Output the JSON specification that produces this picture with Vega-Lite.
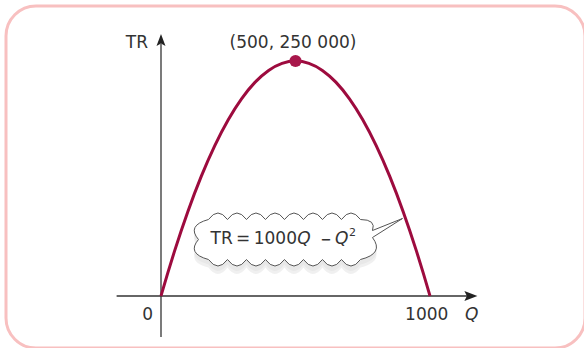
{
  "$schema": "https://vega.github.io/schema/vega-lite/v6.json",
  "width": 579,
  "height": 342,
  "autosize": {"type": "none"},
  "padding": {"left": 6, "top": 6, "right": 0, "bottom": 0},
  "background": "white",
  "config": {
    "view": {"stroke": "#f8c0c0", "strokeWidth": 3, "cornerRadius": 30},
    "text": {"font": "DejaVu Sans", "fontSize": 17, "color": "#333333"}
  },
  "encoding": {
    "x": {"field": "x", "type": "quantitative", "axis": null, "scale": {"domain": [-576.2, 1576.2], "nice": false, "zero": false}},
    "y": {"field": "y", "type": "quantitative", "axis": null, "scale": {"domain": [-55319, 308511], "nice": false, "zero": false}}
  },
  "layer": [
    {
      "data": {"values": [
        {"x": -165, "x2": 1150, "y": 0, "y2": 0},
        {"x": 0, "x2": 0, "y": -43617, "y2": 268000}
      ]},
      "mark": {"type": "rule", "color": "#333333", "strokeWidth": 1.3},
      "encoding": {"x2": {"field": "x2"}, "y2": {"field": "y2"}}
    },
    {
      "data": {"values": [
        {"x": 1152, "y": 0, "dir": "right"}
      ]},
      "mark": {"type": "point", "filled": true, "color": "#222222", "opacity": 1, "size": 4, "shape": "M6.5,0L-6.5,5L-4,0L-6.5,-5Z"}
    },
    {
      "data": {"values": [
        {"x": 0, "y": 272340, "dir": "up"}
      ]},
      "mark": {"type": "point", "filled": true, "color": "#222222", "opacity": 1, "size": 4, "shape": "M0,-6L4.5,6L0,3.5L-4.5,6Z"}
    },
    {
      "data": {"values": [
        {"x": 0, "y": 0}, {"x": 25, "y": 24375}, {"x": 50, "y": 47500}, {"x": 100, "y": 90000},
        {"x": 150, "y": 127500}, {"x": 200, "y": 160000}, {"x": 250, "y": 187500},
        {"x": 300, "y": 210000}, {"x": 350, "y": 227500}, {"x": 400, "y": 240000},
        {"x": 450, "y": 247500}, {"x": 500, "y": 250000}, {"x": 550, "y": 247500},
        {"x": 600, "y": 240000}, {"x": 650, "y": 227500}, {"x": 700, "y": 210000},
        {"x": 750, "y": 187500}, {"x": 800, "y": 160000}, {"x": 850, "y": 127500},
        {"x": 900, "y": 90000}, {"x": 950, "y": 47500}, {"x": 975, "y": 24375}, {"x": 1000, "y": 0}
      ]},
      "mark": {"type": "line", "color": "#9d0b3e", "strokeWidth": 3, "interpolate": "monotone"}
    },
    {
      "data": {"values": [{"x": 500, "y": 250000}]},
      "mark": {"type": "point", "filled": true, "color": "#a8174b", "opacity": 1, "size": 150}
    },
    {
      "data": {"values": [{"x": 459, "y": 60106}]},
      "mark": {"type": "point", "filled": true, "color": "#cfcfcf", "opacity": 0.35, "size": 4, "yOffset": 5, "strokeWidth": 0,
        "shape": "M-76,-20 Q-66.5,-33,-57,-20 Q-47.5,-33,-38,-20 Q-28.5,-33,-19,-20 Q-9.5,-33,0,-20 Q9.5,-33,19,-20 Q28.5,-33,38,-20 Q47.5,-33,57,-20 Q66.5,-33,76,-20 Q92,-20,88,-9 L88,-2 Q100,14,76,20 Q66.5,33,57,20 Q47.5,33,38,20 Q28.5,33,19,20 Q9.5,33,0,20 Q-9.5,33,-19,20 Q-28.5,33,-38,20 Q-47.5,33,-57,20 Q-66.5,33,-76,20 Q-98,14,-86,0 Q-98,-14,-76,-20 Z"}
    },
    {
      "data": {"values": [{"x": 459, "y": 60106}]},
      "mark": {"type": "point", "filled": true, "color": "#e2e2e2", "opacity": 0.5, "size": 4, "yOffset": 8, "strokeWidth": 0,
        "shape": "M-76,-20 Q-66.5,-33,-57,-20 Q-47.5,-33,-38,-20 Q-28.5,-33,-19,-20 Q-9.5,-33,0,-20 Q9.5,-33,19,-20 Q28.5,-33,38,-20 Q47.5,-33,57,-20 Q66.5,-33,76,-20 Q92,-20,88,-9 L88,-2 Q100,14,76,20 Q66.5,33,57,20 Q47.5,33,38,20 Q28.5,33,19,20 Q9.5,33,0,20 Q-9.5,33,-19,20 Q-28.5,33,-38,20 Q-47.5,33,-57,20 Q-66.5,33,-76,20 Q-98,14,-86,0 Q-98,-14,-76,-20 Z"}
    },
    {
      "data": {"values": [{"x": 459, "y": 60106}]},
      "mark": {"type": "point", "filled": false, "fill": "white", "fillOpacity": 1, "stroke": "#555555", "strokeWidth": 1, "opacity": 1, "size": 4,
        "shape": "M-76,-20 Q-66.5,-33,-57,-20 Q-47.5,-33,-38,-20 Q-28.5,-33,-19,-20 Q-9.5,-33,0,-20 Q9.5,-33,19,-20 Q28.5,-33,38,-20 Q47.5,-33,57,-20 Q66.5,-33,76,-20 Q92,-20,88,-9 L118,-21 L88,-2 Q100,14,76,20 Q66.5,33,57,20 Q47.5,33,38,20 Q28.5,33,19,20 Q9.5,33,0,20 Q-9.5,33,-19,20 Q-28.5,33,-38,20 Q-47.5,33,-57,20 Q-66.5,33,-76,20 Q-98,14,-86,0 Q-98,-14,-76,-20 Z"}
    },
    {
      "data": {"values": [
        {"x": 490.7, "y": 263830, "label": "(500, 250 000)"},
        {"x": -50, "y": -25532, "label": "0"},
        {"x": 987.7, "y": -25532, "label": "1000"}
      ]},
      "mark": {"type": "text", "align": "center", "baseline": "alphabetic"},
      "encoding": {"text": {"field": "label"}}
    },
    {
      "data": {"values": [
        {"x": -48.3, "y": 263830, "label": "TR"},
        {"x": 505.6, "y": 55319, "label": "TR\u2009=\u20091000"}
      ]},
      "mark": {"type": "text", "align": "right", "baseline": "alphabetic"},
      "encoding": {"text": {"field": "label"}}
    },
    {
      "data": {"values": [
        {"x": 1155, "y": -25532, "label": "Q"},
        {"x": 531, "y": 55319, "label": "Q"},
        {"x": 672, "y": 55319, "label": "Q"}
      ]},
      "mark": {"type": "text", "align": "center", "baseline": "alphabetic", "fontStyle": "italic"},
      "encoding": {"text": {"field": "label"}}
    },
    {
      "data": {"values": [{"x": 614, "y": 55319, "label": "−"}]},
      "mark": {"type": "text", "align": "center", "baseline": "alphabetic", "fontWeight": "bold", "fontSize": 13},
      "encoding": {"text": {"field": "label"}}
    },
    {
      "data": {"values": [{"x": 711.9, "y": 63830, "label": "2"}]},
      "mark": {"type": "text", "align": "center", "baseline": "alphabetic", "fontSize": 11},
      "encoding": {"text": {"field": "label"}}
    }
  ]
}
